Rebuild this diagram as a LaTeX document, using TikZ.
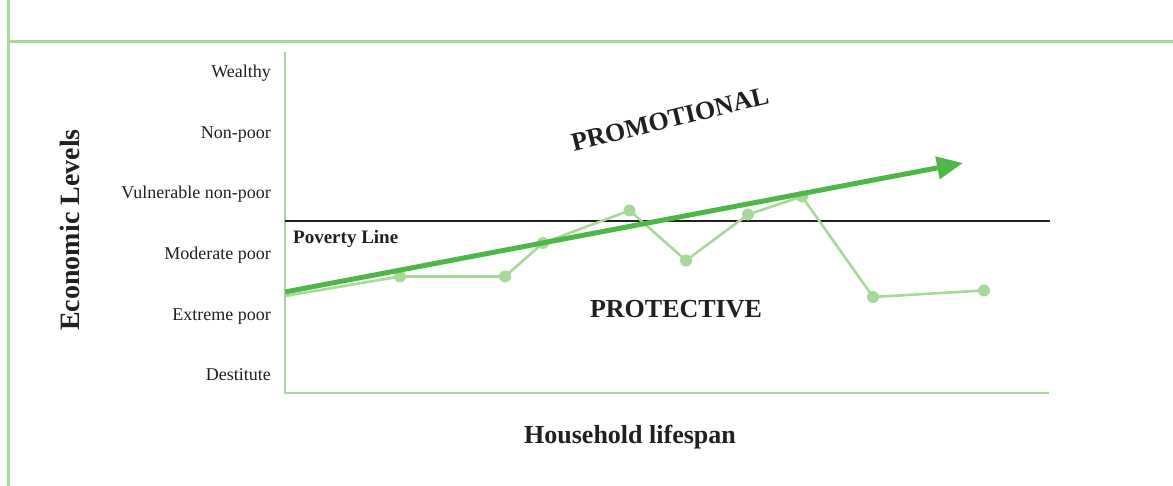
\documentclass[tikz,border=0pt]{standalone}
\usepackage{fontspec}
\setmainfont{Liberation Serif}
\usetikzlibrary{arrows.meta}
\definecolor{lightgr}{HTML}{A8D89B}
\definecolor{midgr}{HTML}{4DB848}
\definecolor{txt}{HTML}{231F20}
\tikzset{
  framegr/.style={draw=lightgr, line width=2.2pt},
  level/.style={anchor=base east, text=txt, inner sep=0pt, font=\fontsize{18}{20}\selectfont},
  boldlbl/.style={text=txt, inner sep=0pt, font=\fontsize{26}{28}\selectfont\bfseries},
  dot/.style={circle, fill=lightgr, inner sep=0pt, minimum size=12pt},
  path/.style={draw=lightgr, line width=2.6pt},
  trend/.style={draw=midgr, line width=5pt, -{Triangle[length=26pt,width=22pt]}}
}
\begin{document}
\begin{tikzpicture}[x=1pt,y=-1pt]
\useasboundingbox (0,0) rectangle (1173,486);
% frame
\coordinate (ftl) at (8.5,0);
\coordinate (fbl) at (8.5,486);
\coordinate (fh1) at (8.5,41.5);
\coordinate (fh2) at (1173,41.5);
\draw[framegr] (ftl) -- (fbl);
\draw[framegr] (fh1) -- (fh2);
% axes
\coordinate (ytop) at (285,52.5);
\coordinate (orig) at (285,393);
\coordinate (xend) at (1049,393);
\draw[framegr, line width=2.4pt] (ytop) -- (orig) -- (xend);
% poverty line
\coordinate (pl1) at (285,221.5);
\coordinate (pl2) at (1050,221.5);
\draw[txt, line width=2pt] (pl1) -- (pl2);
\node[anchor=base west, text=txt, inner sep=0pt, font=\fontsize{19}{21}\selectfont\bfseries] (povl) at (293,243.3) {Poverty Line};
% levels
\node[level] (l1) at (271,77.7) {Wealthy};
\node[level] (l2) at (271,138.3) {Non-poor};
\node[level] (l3) at (271,199) {Vulnerable non-poor};
\node[level] (l4) at (271,259.6) {Moderate poor};
\node[level] (l5) at (271,320.2) {Extreme poor};
\node[level] (l6) at (271,380.8) {Destitute};
% axis titles
\node[boldlbl, font=\fontsize{28}{30}\selectfont\bfseries, rotate=90, anchor=base] (ylab) at (79,230) {Economic Levels};
\node[boldlbl, anchor=base] (xlab) at (630,443) {Household lifespan};
% household path
\coordinate (h0) at (285,296);
\node[dot] (h1) at (400,276.5) {};
\node[dot] (h2) at (505,276.5) {};
\node[dot] (h3) at (543,243) {};
\node[dot] (h4) at (629.5,210.5) {};
\node[dot] (h5) at (686,260.5) {};
\node[dot] (h6) at (748,214.5) {};
\node[dot] (h7) at (802,196.5) {};
\node[dot] (h8) at (873,297) {};
\node[dot] (h9) at (984,290.5) {};
\draw[path, line join=round] (h0) -- (h1.center) -- (h2.center) -- (h3.center) -- (h4.center) -- (h5.center) -- (h6.center) -- (h7.center) -- (h8.center) -- (h9.center);
% trend arrow
\coordinate (t0) at (285,292);
\coordinate (t1) at (963,163);
\draw[trend] (t0) -- (t1);
% region labels
\node[boldlbl, anchor=base, rotate=13.8] (promo) at (672,127.5) {PROMOTIONAL};
\node[boldlbl, anchor=base] (prot) at (676,318) {PROTECTIVE};
\end{tikzpicture}
\end{document}
